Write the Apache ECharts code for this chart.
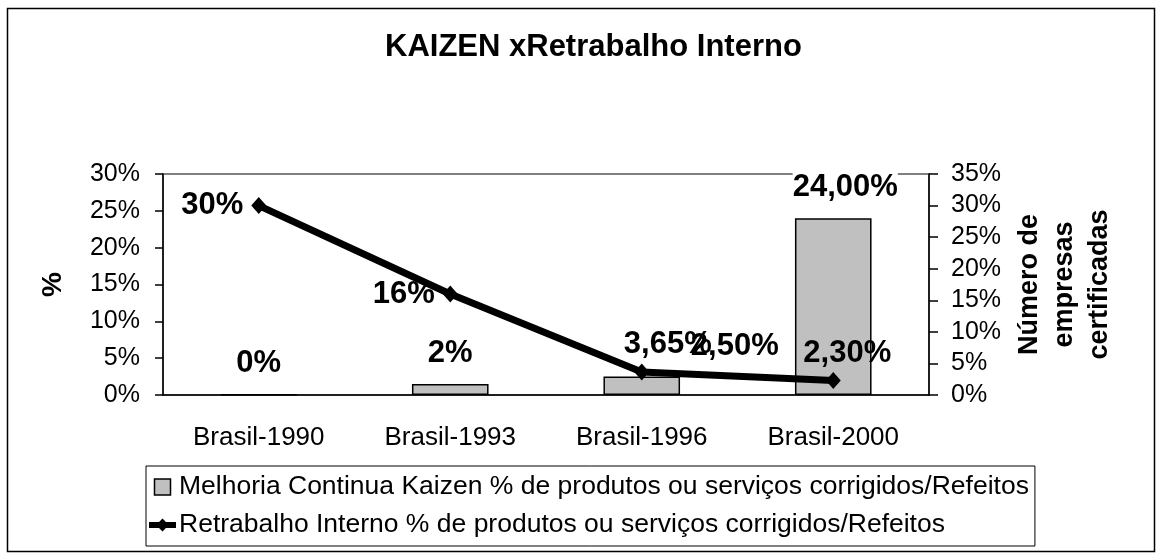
<!DOCTYPE html>
<html>
<head>
<meta charset="utf-8">
<script src="https://cdn.jsdelivr.net/npm/echarts@6/dist/echarts.min.js"></script>
<style>
html, body { margin: 0; padding: 0; background: #fff; }
#chart { width: 1162px; height: 554px; }
</style>
</head>
<body>
<div id="chart"></div>
<script>
var categories = ["Brasil-1990", "Brasil-1993", "Brasil-1996", "Brasil-2000"];
var kaizen = [0.1, 1.5, 2.5, 24];
var kaizenLabels = ["0%", "2%", "2,50%", "24,00%"];
var retrabalho = [30, 16, 3.65, 2.3];
var retrabalhoLabels = ["30%", "16%", "3,65%", "2,30%"];
var seriesNames = [
    "Melhoria Continua Kaizen % de produtos ou serviços corrigidos/Refeitos",
    "Retrabalho Interno % de produtos ou serviços corrigidos/Refeitos"
];

var font = "Liberation Sans, Arial, sans-serif";

// label placement as in the original (some labels were moved by hand)
var barLabelOffset = [[0, 0], [0, 0], [93, 0], [12, 0]];
var lineLabelPos = ["left", "left", "top", "top"];
var lineLabelOffset = [[0, 0], [0, 0], [26, 0], [14, 0]];

var barData = kaizen.map(function (v, i) {
    var item = { value: v, label: { offset: barLabelOffset[i] } };
    if (i == 3) item.label.backgroundColor = "#fff";
    return item;
});
var lineData = retrabalho.map(function (v, i) {
    return {
        value: v,
        label: {
            position: lineLabelPos[i],
            offset: lineLabelOffset[i],
            distance: lineLabelPos[i] == "left" ? 8 : 3
        }
    };
});

var chart = echarts.init(document.getElementById("chart"));

var options = {
    animation: false,
    backgroundColor: "#fff",
    textStyle: { fontFamily: font, color: "#000" },
    title: {
        text: "KAIZEN xRetrabalho Interno",
        left: 380,
        top: 27,
        textStyle: { fontFamily: font, fontSize: 31, fontWeight: "bold", color: "#000" }
    },
    graphic: [{
        type: "rect",
        shape: { x: 7.5, y: 8.5, width: 1147, height: 543 },
        style: { fill: "none", stroke: "#000", lineWidth: 1.5 },
        z: -1
    }],
    grid: {
        left: 163, right: 233, top: 174, bottom: 159,
        show: true, borderColor: "#808080", borderWidth: 2
    },
    legend: {
        orient: "vertical",
        left: 146,
        top: 466,
        padding: [6, 6, 6, 0],
        itemGap: 8,
        itemWidth: 27,
        itemHeight: 16,
        borderColor: "#000",
        borderWidth: 1,
        backgroundColor: "#fff",
        textStyle: { fontFamily: font, fontSize: 26.5, color: "#000", lineHeight: 30, padding: [0, 0, 0, -2] },
        data: [{
            name: seriesNames[0],
            icon: "path://M0,0h10v10h-10z",
            itemStyle: { color: "#c0c0c0", borderColor: "#000", borderWidth: 1.5 }
        }, {
            name: seriesNames[1],
            itemStyle: { color: "#000" },
            lineStyle: { color: "#000", width: 6 }
        }]
    },
    xAxis: {
        type: "category",
        data: categories,
        axisLine: { lineStyle: { color: "#000", width: 1.5 } },
        axisTick: { alignWithLabel: false, length: 9, lineStyle: { color: "#000", width: 1.5 } },
        axisLabel: { fontFamily: font, fontSize: 26, color: "#000", margin: 30 }
    },
    yAxis: [{
        type: "value",
        min: 0, max: 30, interval: 5,
        name: "%",
        nameLocation: "middle",
        nameRotate: 90,
        nameGap: 96,
        nameTextStyle: { fontFamily: font, fontSize: 28, fontWeight: "bold", color: "#000" },
        axisLine: { show: true, lineStyle: { color: "#000", width: 1.5 } },
        axisTick: { show: true, length: 8, lineStyle: { color: "#000", width: 1.5 } },
        splitLine: { show: false },
        axisLabel: { fontFamily: font, fontSize: 25, color: "#000", margin: 23, formatter: "{value}%" }
    }, {
        type: "value",
        position: "right",
        min: 0, max: 35, interval: 5,
        name: "Número de\nempresas\ncertificadas",
        nameLocation: "middle",
        nameRotate: 90,
        nameGap: 83,
        nameTextStyle: { fontFamily: font, fontSize: 27, fontWeight: "bold", color: "#000", lineHeight: 35, align: "center" },
        axisLine: { show: true, lineStyle: { color: "#000", width: 1.5 } },
        axisTick: { show: true, length: 9, lineStyle: { color: "#000", width: 1.5 } },
        splitLine: { show: false },
        axisLabel: { fontFamily: font, fontSize: 25, color: "#000", margin: 22, formatter: "{value}%" }
    }],
    series: [{
        name: seriesNames[0],
        type: "bar",
        yAxisIndex: 0,
        barWidth: "40%",
        data: barData,
        itemStyle: { color: "#c0c0c0", borderColor: "#000", borderWidth: 1.5 },
        label: {
            show: true,
            position: "top",
            distance: 15,
            fontFamily: font,
            fontSize: 31,
            fontWeight: "bold",
            color: "#000",
            formatter: function (p) { return kaizenLabels[p.dataIndex]; }
        }
    }, {
        name: seriesNames[1],
        type: "line",
        yAxisIndex: 1,
        data: lineData,
        symbol: "diamond",
        symbolSize: [15, 17],
        lineStyle: { color: "#000", width: 7 },
        itemStyle: { color: "#000" },
        label: {
            show: true,
            fontFamily: font,
            fontSize: 31,
            fontWeight: "bold",
            color: "#000",
            formatter: function (p) { return retrabalhoLabels[p.dataIndex]; }
        }
    }]
};

chart.setOption(options);
</script>
</body>
</html>
